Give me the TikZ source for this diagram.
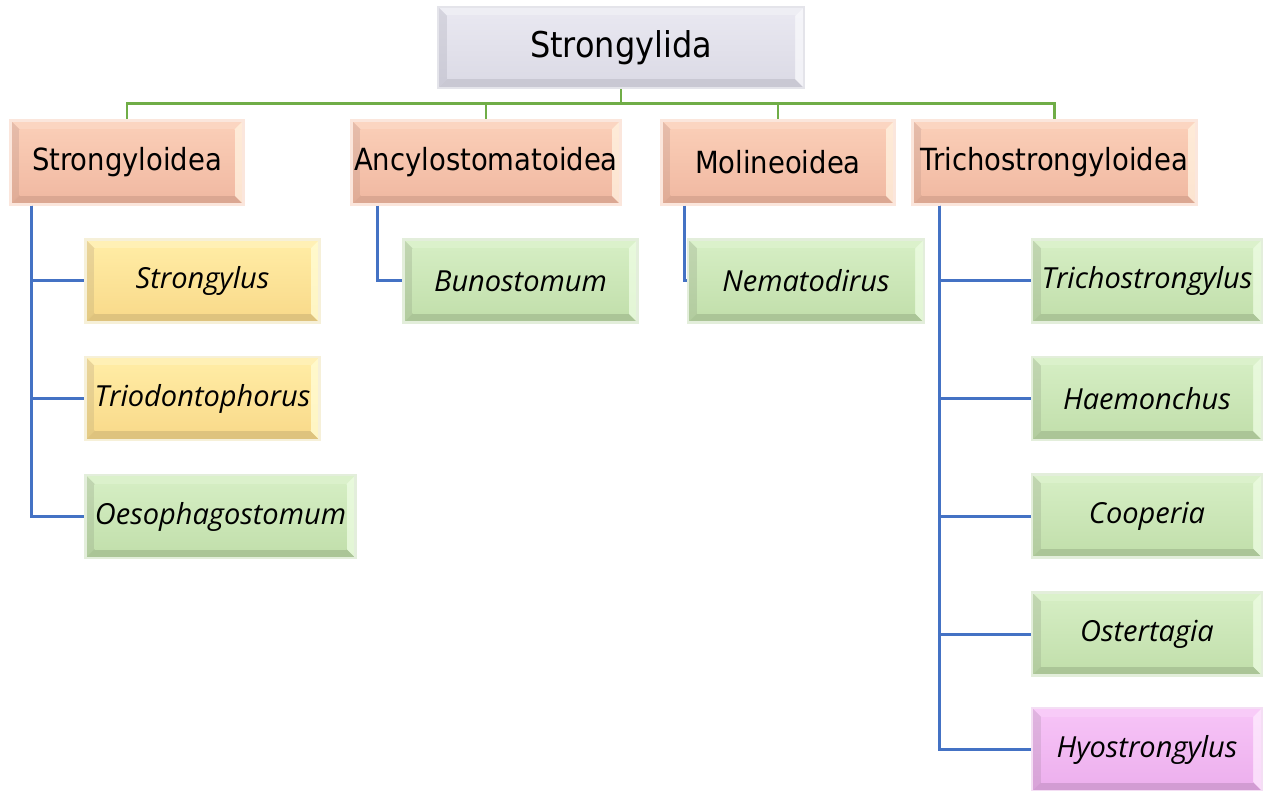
\documentclass[tikz,border=0pt]{standalone}
\usepackage{fontspec}
\setmainfont{DejaVu Sans Condensed}
\newfontfamily\itfont{Open Sans}
\usetikzlibrary{calc}

% colour families: F1 face top, F2 face bottom, T top bevel, L left bevel, B bottom bevel, R right bevel, O outer frame
\definecolor{grF1}{HTML}{E8E7F0}\definecolor{grF2}{HTML}{DCDBE6}
\definecolor{grT}{HTML}{EEEEF4}\definecolor{grL}{HTML}{CBCAD6}
\definecolor{grB}{HTML}{C9C8D3}\definecolor{grR}{HTML}{F5F5F9}\definecolor{grO}{HTML}{E4E4EA}

\definecolor{saF1}{HTML}{FACDB6}\definecolor{saF2}{HTML}{F1BAA3}
\definecolor{saT}{HTML}{FBD5C1}\definecolor{saL}{HTML}{E0AC96}
\definecolor{saB}{HTML}{DBA792}\definecolor{saR}{HTML}{FEEBD8}\definecolor{saO}{HTML}{FBE6DC}

\definecolor{yeF1}{HTML}{FFEBA3}\definecolor{yeF2}{HTML}{F9DB8C}
\definecolor{yeT}{HTML}{FFF0B5}\definecolor{yeL}{HTML}{E4CA82}
\definecolor{yeB}{HTML}{DEC37E}\definecolor{yeR}{HTML}{FFF9CC}\definecolor{yeO}{HTML}{F6F0D8}

\definecolor{gnF1}{HTML}{D4EDC2}\definecolor{gnF2}{HTML}{C3E0AD}
\definecolor{gnT}{HTML}{DBF1CB}\definecolor{gnL}{HTML}{B2CC9E}
\definecolor{gnB}{HTML}{ABC597}\definecolor{gnR}{HTML}{E8F9DC}\definecolor{gnO}{HTML}{E3EEDB}

\definecolor{piF1}{HTML}{F6C2F6}\definecolor{piF2}{HTML}{EDB1EE}
\definecolor{piT}{HTML}{F8CBF8}\definecolor{piL}{HTML}{D8A2D8}
\definecolor{piB}{HTML}{D29CD3}\definecolor{piR}{HTML}{FCE3FC}\definecolor{piO}{HTML}{F4DEF4}

\definecolor{lnGreen}{HTML}{70AD47}
\definecolor{lnBlue}{HTML}{4472C4}

\tikzset{
  bevelbox/.style={
    rectangle, inner sep=0pt, draw=#1O, line width=2.5pt,
    path picture={
      \coordinate (nw) at (path picture bounding box.north west);
      \coordinate (ne) at (path picture bounding box.north east);
      \coordinate (sw) at (path picture bounding box.south west);
      \coordinate (se) at (path picture bounding box.south east);
      \coordinate (inw) at ($(nw)+(9pt,-9pt)$);
      \coordinate (ine) at ($(ne)+(-9pt,-9pt)$);
      \coordinate (isw) at ($(sw)+(9pt,9pt)$);
      \coordinate (ise) at ($(se)+(-9pt,9pt)$);
      \shade[top color=#1F1, bottom color=#1F2] (nw) rectangle (se);
      \fill[#1T] (nw) -- (ne) -- (ine) -- (inw) -- cycle;
      \shade[top color=#1L!80!white, bottom color=#1L] (nw) -- (inw) -- (isw) -- (sw) -- cycle;
      \fill[#1B] (sw) -- (isw) -- (ise) -- (se) -- cycle;
      \shade[top color=#1R, bottom color=#1R!85!#1F2] (ne) -- (se) -- (ise) -- (ine) -- cycle;
      \shade[top color=#1F1, bottom color=#1F2] (inw) rectangle (ise);
    }},
  topbox/.style={bevelbox=gr, minimum width=366pt, minimum height=81pt, font=\fontsize{35.5}{40}\selectfont},
  famboxa/.style={bevelbox=sa, minimum height=84pt, font=\fontsize{30.5}{36}\selectfont},
  genbox/.style={bevelbox=#1, minimum height=83pt, font=\itfont\itshape\fontsize{29}{34}\selectfont},
  gline/.style={draw=lnGreen, line width=2.8pt},
  bline/.style={draw=lnBlue, line width=3pt},
}

\begin{document}
\begin{tikzpicture}[x=1pt,y=-1pt]
\useasboundingbox (0,0) rectangle (1264,791);
\fill[white] (0,0) rectangle (1264,791);

% level 1
\node[topbox] (root) at (621,47.5) {Strongylida};

% level 2
\node[famboxa, minimum width=233pt] (f1) at (127,162.5) {Strongyloidea};
\node[famboxa, minimum width=269pt] (f2) at (486,162.5) {Ancylostomatoidea};
\node[famboxa, minimum width=233pt] (f3) at (778,162.5) {Molineoidea};
\node[famboxa, minimum width=284pt] (f4) at (1054.5,162.5) {Trichostrongyloidea};

% level 3
\node[genbox=ye, minimum width=234pt] (g11) at (202.5,281) {Strongylus};
\node[genbox=ye, minimum width=234pt] (g12) at (202.5,398.5) {Triodontophorus};
\node[genbox=gn, minimum width=270pt] (g13) at (220.5,516.5) {Oesophagostomum};

\node[genbox=gn, minimum width=234pt] (g21) at (520.5,281) {Bunostomum};
\node[genbox=gn, minimum width=236pt] (g31) at (806,281) {Nematodirus};

\node[genbox=gn, minimum width=230pt] (g41) at (1147,281) {Trichostrongylus};
\node[genbox=gn, minimum width=230pt] (g42) at (1147,398.5) {Haemonchus};
\node[genbox=gn, minimum width=230pt] (g43) at (1147,516) {Cooperia};
\node[genbox=gn, minimum width=230pt] (g44) at (1147,634) {Ostertagia};
\node[genbox=pi, minimum width=230pt] (g45) at (1147,749.5) {Hyostrongylus};

% green connectors
\coordinate (bus) at ($(root.south)+(0pt,-14pt)$);
\draw[gline] (root.south) -- (bus);
\draw[gline] (bus) -| (f1.north);
\draw[gline] (bus) -| (f2.north);
\draw[gline] (bus) -| (f3.north);
\draw[gline] (bus) -| (f4.north);

% blue connectors
\coordinate (t1) at ($(f1.south west)+(22pt,0pt)$);
\draw[bline] (t1) |- (g11.west);
\draw[bline] (t1) |- (g12.west);
\draw[bline] (t1) |- (g13.west);

\coordinate (t2) at ($(f2.south west)+(27pt,0pt)$);
\draw[bline] (t2) |- (g21.west);

\coordinate (t3) at ($(f3.south west)+(24pt,0pt)$);
\draw[bline] (t3) |- (g31.west);

\coordinate (t4) at ($(f4.south west)+(28pt,0pt)$);
\draw[bline] (t4) |- (g41.west);
\draw[bline] (t4) |- (g42.west);
\draw[bline] (t4) |- (g43.west);
\draw[bline] (t4) |- (g44.west);
\draw[bline] (t4) |- (g45.west);
\end{tikzpicture}
\end{document}
